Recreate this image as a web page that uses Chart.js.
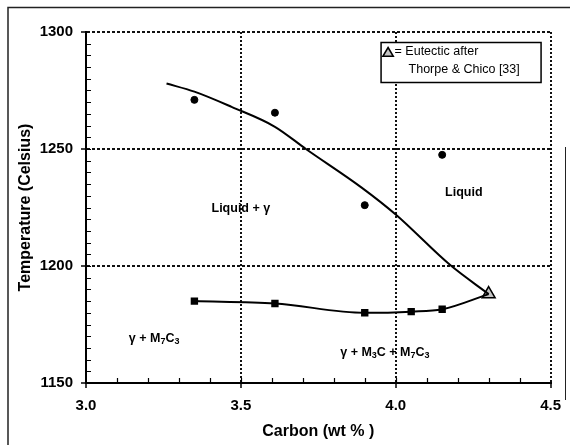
<!DOCTYPE html>
<html>
<head>
<meta charset="utf-8">
<script src="https://cdn.jsdelivr.net/npm/chart.js@4.4.0/dist/chart.umd.min.js"></script>
<style>
  html, body { margin: 0; padding: 0; background: #fff; }
  #wrap { width: 570px; height: 445px; position: relative; }
</style>
</head>
<body>
<div id="wrap"><canvas id="phase-diagram" width="570" height="445"></canvas></div>
<script>
// liquidus curve (smoothed line, no markers)
var liquidusC = [3.26, 3.35, 3.47, 3.61, 3.71, 3.89, 4.0, 4.175, 4.3];
var liquidusT = [1278, 1274.5, 1268, 1259.5, 1250, 1233.5, 1222, 1200.5, 1188];
// measured liquidus points
var measuredC = [3.35, 3.61, 3.90, 4.15];
var measuredT = [1271, 1265.5, 1226, 1247.5];
// eutectic (squares)
var eutecticC = [3.35, 3.61, 3.90, 4.05, 4.15];
var eutecticT = [1185, 1184, 1180, 1180.5, 1181.5];
// eutectic after Thorpe & Chico
var thorpeC = [4.3];
var thorpeT = [1188];

var carbonMajor = [3.0, 3.5, 4.0, 4.5];
var tempMajor = [1150, 1200, 1250, 1300];

// region labels: [carbon, temp, pieces] ; pieces: [text, subscript?]
var regionC = [3.5, 4.22, 3.22, 3.965];
var regionT = [1224.5, 1231.5, 1169, 1163];
var regionText = [
    [['Liquid + \u03b3', 0]],
    [['Liquid', 0]],
    [['\u03b3 + M', 0], ['7', 1], ['C', 0], ['3', 1]],
    [['\u03b3 + M', 0], ['3', 1], ['C + M', 0], ['7', 1], ['C', 0], ['3', 1]]
];

var FONT = '"Liberation Sans", Arial, Helvetica, sans-serif';

function xy(xs, ys) {
    var out = [];
    for (var i = 0; i < xs.length; i++) out.push({x: xs[i], y: ys[i]});
    return out;
}

function drawTriangle(ctx, cx, cy, r) {
    ctx.beginPath();
    ctx.moveTo(cx, cy - r);
    ctx.lineTo(cx + r * 0.95, cy + r * 0.6);
    ctx.lineTo(cx - r * 0.95, cy + r * 0.6);
    ctx.closePath();
    ctx.fillStyle = '#c4c4c4';
    ctx.fill();
    ctx.lineWidth = 1.5;
    ctx.strokeStyle = '#000';
    ctx.stroke();
}

var decorations = {
    id: 'decorations',
    beforeDraw: function (chart) {
        var ctx = chart.ctx;
        ctx.save();
        ctx.fillStyle = '#fff';
        ctx.fillRect(0, 0, chart.width, chart.height);
        // scanned figure frame
        ctx.strokeStyle = '#222';
        ctx.lineWidth = 1.5;
        ctx.beginPath();
        ctx.moveTo(8, 445); ctx.lineTo(8, 7.5); ctx.lineTo(570, 7.5);
        ctx.stroke();
        ctx.lineWidth = 1;
        ctx.beginPath();
        ctx.moveTo(565.5, 147); ctx.lineTo(565.5, 400);
        ctx.stroke();
        ctx.restore();
    },
    afterDraw: function (chart) {
        var ctx = chart.ctx;
        var xs = chart.scales.x, ys = chart.scales.y;
        var area = chart.chartArea;
        ctx.save();
        ctx.strokeStyle = '#000';
        ctx.lineWidth = 1.2;
        // minor ticks, inside
        ctx.beginPath();
        for (var t = 1155; t < 1300; t += 5) {
            var py = Math.round(ys.getPixelForValue(t)) + 0.5;
            ctx.moveTo(area.left, py); ctx.lineTo(area.left + 5, py);
        }
        for (var k = 1; k < 15; k++) {
            var px = Math.round(xs.getPixelForValue(3 + k / 10)) + 0.5;
            ctx.moveTo(px, area.bottom); ctx.lineTo(px, area.bottom - 5);
        }
        ctx.stroke();

        // region labels
        ctx.fillStyle = '#000';
        ctx.textBaseline = 'middle';
        for (var i = 0; i < regionText.length; i++) {
            var parts = regionText[i];
            var widths = [], total = 0;
            for (var j = 0; j < parts.length; j++) {
                ctx.font = parts[j][1] ? 'bold 9px ' + FONT : 'bold 12.5px ' + FONT;
                widths.push(ctx.measureText(parts[j][0]).width);
                total += widths[j];
            }
            var x0 = xs.getPixelForValue(regionC[i]) - total / 2;
            var y0 = ys.getPixelForValue(regionT[i]);
            for (j = 0; j < parts.length; j++) {
                ctx.font = parts[j][1] ? 'bold 9px ' + FONT : 'bold 12.5px ' + FONT;
                ctx.fillText(parts[j][0], x0, parts[j][1] ? y0 + 3 : y0);
                x0 += widths[j];
            }
        }

        // legend box
        var bx = area.right - 170, by = area.top + 10, bw = 160, bh = 40;
        ctx.fillStyle = '#fff';
        ctx.fillRect(bx, by, bw, bh);
        ctx.lineWidth = 1.5;
        ctx.strokeStyle = '#000';
        ctx.strokeRect(bx + 0.5, by + 0.5, bw, bh);
        drawTriangle(ctx, bx + 7.5, by + 11, 5.5);
        ctx.fillStyle = '#000';
        ctx.font = '12.5px ' + FONT;
        ctx.textBaseline = 'middle';
        ctx.textAlign = 'left';
        ctx.fillText('= Eutectic after', bx + 14, by + 10);
        ctx.fillText('Thorpe & Chico [33]', bx + 28, by + 28);
        ctx.restore();
    }
};

var gridAt = function (list, on) {
    return function (c) {
        return (c.tick && list.indexOf(Math.round(c.tick.value * 100) / 100) >= 0) ? on : 'rgba(0,0,0,0)';
    };
};

var canvas = document.getElementById('phase-diagram');
var ctx = canvas.getContext('2d');
var phaseChart = new Chart(ctx, {
    type: 'scatter',
    data: {
        datasets: [{
            label: 'Liquidus',
            data: xy(liquidusC, liquidusT),
            showLine: true,
            borderColor: '#000',
            borderWidth: 2,
            pointRadius: 0,
            cubicInterpolationMode: 'monotone'
        }, {
            label: 'Measured',
            data: xy(measuredC, measuredT),
            pointStyle: 'circle',
            pointRadius: 3.5,
            backgroundColor: '#000',
            borderColor: '#000'
        }, {
            label: 'Eutectic',
            data: xy(eutecticC.concat(thorpeC), eutecticT.concat(thorpeT)),
            showLine: true,
            borderColor: '#000',
            borderWidth: 2,
            cubicInterpolationMode: 'monotone',
            pointStyle: 'rect',
            pointRadius: eutecticC.map(function () { return 3.8; }).concat([0]),
            backgroundColor: '#000'
        }, {
            label: 'Thorpe & Chico',
            data: xy(thorpeC, thorpeT),
            pointStyle: 'triangle',
            pointRadius: 7.5,
            backgroundColor: '#c4c4c4',
            borderColor: '#000',
            borderWidth: 1.5
        }]
    },
    options: {
        responsive: false,
        animation: false,
        devicePixelRatio: 1,
        layout: {padding: {top: 32, right: 18, bottom: 0, left: 0}},
        plugins: {legend: {display: false}, tooltip: {enabled: false}},
        scales: {
            x: {
                type: 'linear',
                min: 3.0,
                max: 4.5,
                afterFit: function (s) { s.height = 62; },
                afterBuildTicks: function (s) { s.ticks = carbonMajor.map(function (v) { return {value: v}; }); },
                ticks: {
                    color: '#000',
                    padding: 9,
                    font: {family: FONT, size: 15, weight: 'bold'},
                    callback: function (v) { return v.toFixed(1); }
                },
                grid: {
                    color: gridAt([3.5, 4.0, 4.5], '#111'),
                    lineWidth: 2,
                    tickColor: '#000',
                    tickLength: 5,
                    tickWidth: 1.5
                },
                border: {color: '#000', width: 2, dash: [2, 2]},
                title: {
                    display: true,
                    text: 'Carbon (wt % )',
                    color: '#000',
                    font: {family: FONT, size: 16, weight: 'bold'},
                    padding: {top: 0, bottom: 4}
                }
            },
            y: {
                type: 'linear',
                min: 1150,
                max: 1300,
                afterFit: function (s) { s.width = 86; },
                afterBuildTicks: function (s) { s.ticks = tempMajor.map(function (v) { return {value: v}; }); },
                ticks: {
                    color: '#000',
                    padding: 8,
                    font: {family: FONT, size: 15, weight: 'bold'},
                    callback: function (v) { return String(v); }
                },
                grid: {
                    color: gridAt([1200, 1250, 1300], '#111'),
                    lineWidth: 2,
                    tickColor: '#000',
                    tickLength: 5,
                    tickWidth: 1.5
                },
                border: {color: '#000', width: 2, dash: [3, 2]},
                title: {
                    display: true,
                    text: 'Temperature (Celsius)',
                    color: '#000',
                    font: {family: FONT, size: 16, weight: 'bold'},
                    padding: {top: 16, bottom: 0}
                }
            }
        }
    },
    plugins: [decorations]
});
</script>
</body>
</html>
